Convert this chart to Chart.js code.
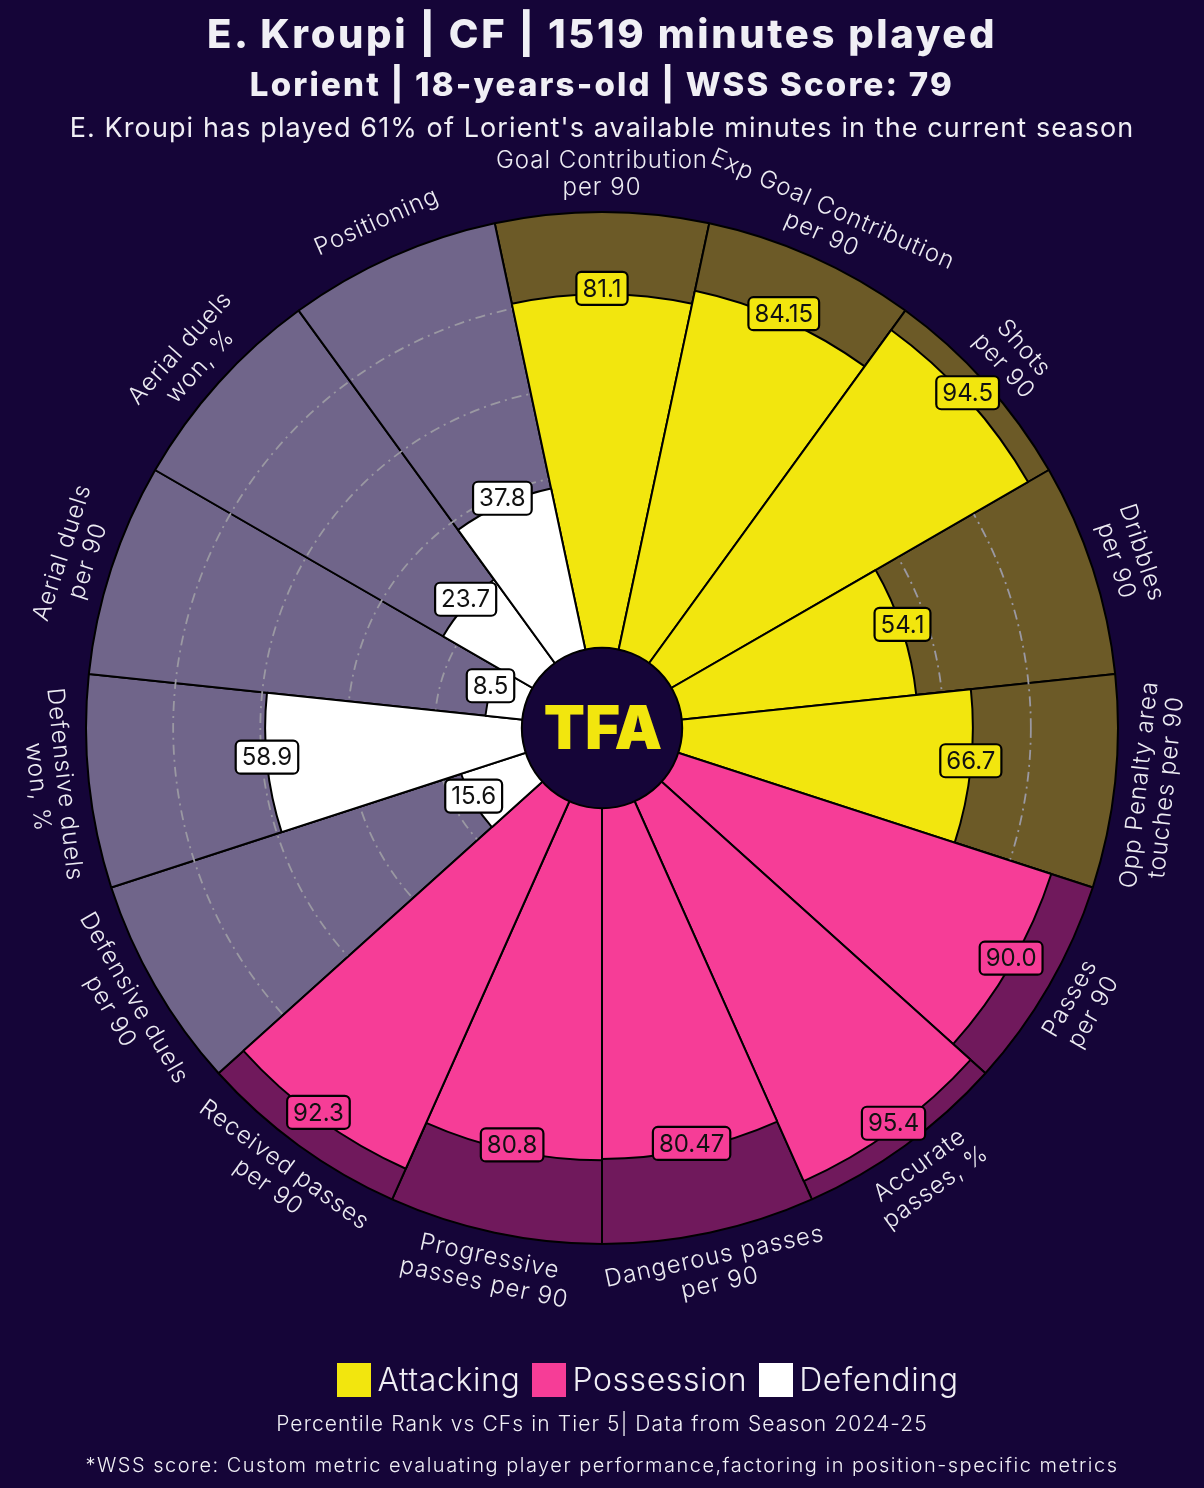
<!DOCTYPE html>
<html>
<head>
<meta charset="utf-8">
<script src="https://cdn.jsdelivr.net/npm/chart.js@4.4.0/dist/chart.umd.min.js"></script>
<style>
  html, body { margin: 0; padding: 0; background: #150538; }
  #wrap { position: relative; width: 1204px; height: 1488px; font-family: Inter, "Noto Sans", sans-serif; color: #f0eff5; }
  #pizza { position: absolute; left: 0; top: 0; }
  .line { position: absolute; left: 0; width: 1204px; text-align: center; white-space: nowrap; }
  #title { top: 12px; font-size: 40px; line-height: 44px; font-weight: 800; letter-spacing: 2.6px; }
  #subtitle { top: 65px; font-size: 33px; line-height: 38px; font-weight: 800; letter-spacing: 2.2px; }
  #minutes { top: 112px; font-size: 27px; line-height: 32px; font-weight: 400; letter-spacing: 1.1px; }
  #legend { top: 1361px; box-sizing: border-box; padding-left: 80px; display: flex; justify-content: center; align-items: center; font-size: 32px; line-height: 38px; font-weight: 300; letter-spacing: 0.6px; }
  #legend span.box { display: inline-block; width: 34px; height: 34px; margin: 0 6px 0 12px; }
  #note1 { top: 1411px; font-size: 21px; line-height: 26px; font-weight: 300; letter-spacing: 1.1px; }
  #note2 { top: 1452px; font-size: 20px; line-height: 26px; font-weight: 300; letter-spacing: 1.5px; }
</style>
</head>
<body>
<div id="wrap">
  <canvas id="pizza" width="1204" height="1488"></canvas>
  <div class="line" id="title">E. Kroupi | CF | 1519 minutes played</div>
  <div class="line" id="subtitle">Lorient | 18-years-old | WSS Score: 79</div>
  <div class="line" id="minutes">E. Kroupi has played 61% of Lorient's available minutes in the current season</div>
  <div class="line" id="legend"></div>
  <div class="line" id="note1">Percentile Rank vs CFs in Tier 5| Data from Season 2024-25</div>
  <div class="line" id="note2">*WSS score: Custom metric evaluating player performance,factoring in position-specific metrics</div>
</div>
<script>
// parametros, en orden horario desde arriba
const params = [
  "Goal Contribution\nper 90", "Exp Goal Contribution\nper 90", "Shots\nper 90", "Dribbles\nper 90",
  "Opp Penalty area\ntouches per 90", "Passes\nper 90", "Accurate\npasses, %", "Dangerous passes\nper 90",
  "Progressive\npasses per 90", "Received passes\nper 90", "Defensive duels\nper 90", "Defensive duels\nwon, %",
  "Aerial duels\nper 90", "Aerial duels\nwon, %", "Positioning"
];
const percentiles = [81.1, 84.15, 94.5, 54.1, 66.7, 90.0, 95.4, 80.47, 80.8, 92.3, 15.6, 58.9, 8.5, 23.7, 37.8];
const paramGroup = [0, 0, 0, 0, 0, 1, 1, 1, 1, 1, 2, 2, 2, 2, 2];
const groupNames = ["Attacking", "Possession", "Defending"];
const fullScale = params.map(() => 100);
const gridValues = [20, 40, 60, 80];

const sliceColors = ["#f2e60e", "#f63d97", "#ffffff"];
const backColors = ["#6c5a27", "#70195c", "#70658a"];

// leyenda
const legendEl = document.getElementById("legend");
groupNames.forEach((g, i) => {
  legendEl.insertAdjacentHTML("beforeend",
    `<span class="box" style="background:${sliceColors[i]}"></span><span>${g}</span>`);
});

function fmt(v) {
  return Math.abs(Math.round(v * 10) - v * 10) < 1e-6 ? v.toFixed(1) : v.toFixed(2);
}

function roundRect(ctx, x, y, w, h, r) {
  ctx.beginPath();
  ctx.moveTo(x + r, y);
  ctx.arcTo(x + w, y, x + w, y + h, r);
  ctx.arcTo(x + w, y + h, x, y + h, r);
  ctx.arcTo(x, y + h, x, y, r);
  ctx.arcTo(x, y, x + w, y, r);
  ctx.closePath();
}

const pizzaPlugin = {
  id: "pizzaExtras",
  afterDatasetDraw(chart, args) {
    // circulos guia encima del fondo, debajo de los valores
    if (args.index !== 1) return;
    const ctx = chart.ctx;
    const scale = chart.scales.r;
    ctx.save();
    ctx.strokeStyle = "#9a98a2";
    ctx.lineWidth = 1.8;
    ctx.setLineDash([10, 5, 2, 5]);
    gridValues.forEach(v => {
      ctx.beginPath();
      ctx.arc(scale.xCenter, scale.yCenter, scale.getDistanceFromCenterForValue(v), 0, Math.PI * 2);
      ctx.stroke();
    });
    ctx.restore();
  },
  afterDatasetsDraw(chart) {
    const ctx = chart.ctx;
    const scale = chart.scales.r;
    const cx = scale.xCenter, cy = scale.yCenter;
    const arcs = chart.getDatasetMeta(0).data;
    const outer = scale.getDistanceFromCenterForValue(100);

    ctx.save();
    arcs.forEach((arc, i) => {
      const mid = (arc.startAngle + arc.endAngle) / 2;

      // etiqueta de valor
      const r = arc.outerRadius;
      const x = cx + r * Math.cos(mid), y = cy + r * Math.sin(mid) - 6;
      ctx.font = "400 24px Inter, 'Noto Sans', sans-serif";
      ctx.letterSpacing = "0px";
      const txt = fmt(percentiles[i]);
      const w = ctx.measureText(txt).width + 12, h = 33;
      roundRect(ctx, x - w / 2, y - h / 2, w, h, 5);
      ctx.fillStyle = sliceColors[paramGroup[i]];
      ctx.fill();
      ctx.lineWidth = 2.2;
      ctx.strokeStyle = "#000";
      ctx.stroke();
      ctx.fillStyle = "#111";
      ctx.textAlign = "center";
      ctx.textBaseline = "middle";
      ctx.fillText(txt, x, y + 1);

      // nombre del parametro
      const lr = outer + 38;
      const lx = cx + lr * Math.cos(mid), ly = cy + lr * Math.sin(mid);
      let theta = mid + Math.PI / 2;
      theta = ((theta % (2 * Math.PI)) + 2 * Math.PI) % (2 * Math.PI);
      const rot = (theta > Math.PI / 2 && theta < Math.PI * 1.5) ? theta - Math.PI : theta;
      const lines = params[i].split("\n");
      const lh = 27;
      ctx.save();
      ctx.translate(lx, ly);
      ctx.rotate(rot);
      ctx.font = "300 24px Inter, 'Noto Sans', sans-serif";
      ctx.letterSpacing = "1px";
      ctx.fillStyle = "#ecebf2";
      lines.forEach((t, k) => {
        ctx.fillText(t, 0, (k - (lines.length - 1) / 2) * lh);
      });
      ctx.restore();
    });

    // circulo central con logo
    ctx.beginPath();
    ctx.arc(cx, cy, scale.getDistanceFromCenterForValue(0), 0, Math.PI * 2);
    ctx.fillStyle = "#150538";
    ctx.fill();
    ctx.lineWidth = 2;
    ctx.strokeStyle = "#000";
    ctx.stroke();
    ctx.font = "900 60px Inter, 'Noto Sans', sans-serif";
    ctx.letterSpacing = "0px";
    ctx.fillStyle = "#f2e60e";
    ctx.textAlign = "center";
    ctx.textBaseline = "middle";
    ctx.fillText("TFA", cx + 1, cy + 3);
    ctx.restore();
  }
};

new Chart(document.getElementById("pizza"), {
  type: "polarArea",
  data: {
    labels: params,
    datasets: [
      {
        label: "Percentil",
        data: percentiles,
        backgroundColor: paramGroup.map(g => sliceColors[g]),
        borderColor: "#000",
        borderWidth: 2,
        order: 0
      },
      {
        label: "Fondo",
        data: fullScale,
        backgroundColor: paramGroup.map(g => backColors[g]),
        borderColor: "#000",
        borderWidth: 2,
        order: 1
      }
    ]
  },
  options: {
    responsive: false,
    animation: false,
    layout: { padding: { left: 86, right: 86, top: 212, bottom: 244 } },
    plugins: {
      legend: { display: false },
      tooltip: { enabled: false }
    },
    scales: {
      r: {
        startAngle: -12,
        min: -18.4,
        max: 100,
        ticks: { display: false },
        grid: { display: false },
        angleLines: { display: false },
        pointLabels: { display: false }
      }
    }
  },
  plugins: [pizzaPlugin]
});
</script>
</body>
</html>
